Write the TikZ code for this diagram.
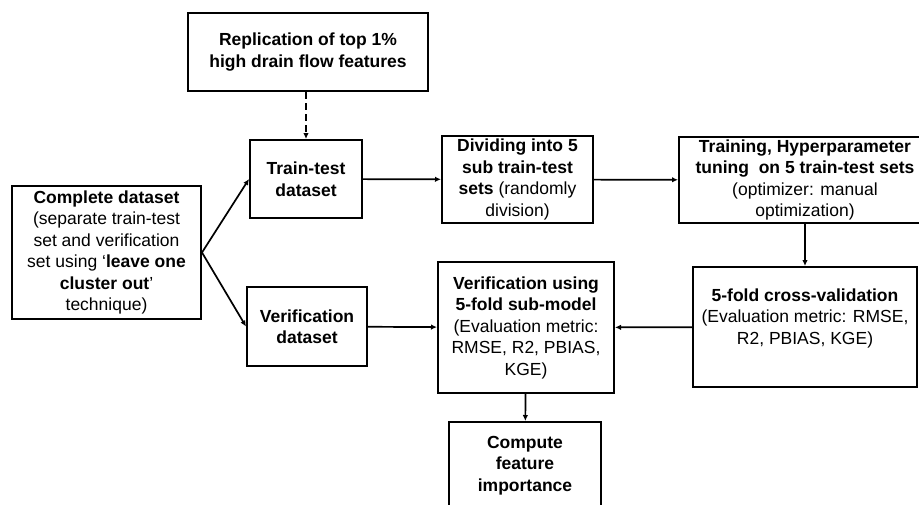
\documentclass[tikz,border=0pt]{standalone}
\usepackage{fontspec}
\setmainfont{Liberation Sans}
\usetikzlibrary{arrows.meta}

\begin{document}
\begin{tikzpicture}[x=1pt, y=-1pt,
    every node/.style={font=\fontsize{17.5}{21.5}\selectfont},
    box/.style={draw, line width=2pt, align=center, inner sep=1pt},
    flow/.style={line width=1.7pt, -{Latex[length=6pt,width=5.5pt]}}]
  \useasboundingbox (0,0) rectangle (919,504);

  % input data and the two subsets
  \node[box, minimum width=189pt, minimum height=133pt] (cmp) at (106.5,252.5)
    {\textbf{Complete dataset}\\(separate train-test\\set and verification\\set using `\textbf{leave one}\\\textbf{cluster out}'\\technique)};
  \node[box, minimum width=240pt, minimum height=78pt] (repl) at (308,52)
    {\textbf{Replication of top 1\%}\\\textbf{high drain flow features}};
  \node[box, minimum width=112pt, minimum height=78pt] (train) at (306,179)
    {\textbf{Train-test}\\\textbf{dataset}};
  \node[box, minimum width=120pt, minimum height=79pt] (verdata) at (307,326.5)
    {\textbf{Verification}\\\textbf{dataset}};

  % model building
  \node[box, minimum width=151pt, minimum height=87pt] (divide) at (517.5,179.5)
    {\textbf{Dividing into 5}\\\textbf{sub train-test}\\\textbf{sets} (randomly\\division)};
  \node[box, minimum width=252pt, minimum height=86pt] (tuning) at (805,180)
    {\textbf{Training, Hyperparameter}\\\textbf{tuning~ on 5 train-test sets}\\(optimizer: manual\\optimization)};
  \node[box, minimum width=224pt, minimum height=120pt] (cv) at (805,327)
    {\textbf{5-fold cross-validation}\\(Evaluation metric: RMSE,\\R2, PBIAS, KGE)\\ \mbox{}};
  \node[box, minimum width=176pt, minimum height=131pt] (verif) at (526,327.5)
    {\textbf{Verification using}\\\textbf{5-fold sub-model}\\(Evaluation metric:\\RMSE, R2, PBIAS,\\KGE)};
  \node[box, minimum width=152pt, minimum height=87pt] (compute) at (525,465.5)
    {\textbf{Compute}\\\textbf{feature}\\\textbf{importance}};

  % connectors
  \draw[flow, dash pattern=on 7pt off 4pt] (repl.south -| train.north) -- (train.north);
  \foreach \a/\b in {cmp.east/train.west, cmp.east/verdata.west, train/divide,
      divide/tuning, tuning/cv, cv/verif, verdata/verif, verif/compute}
    \draw[flow] (\a) -- (\b);
\end{tikzpicture}
\end{document}
